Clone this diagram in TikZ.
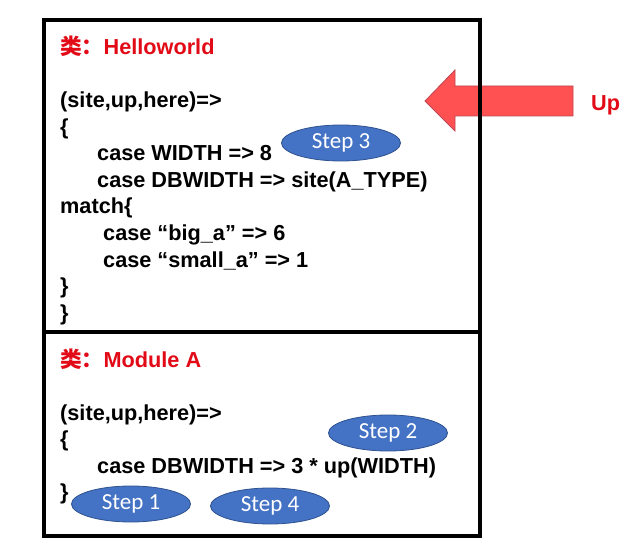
\documentclass[tikz,border=0pt]{standalone}
\usepackage{fontspec}
\setmainfont{Liberation Sans}
\newfontfamily\cjkfont{Noto Sans CJK SC}
\newfontfamily\stepfont{Carlito}
\usetikzlibrary{shapes.geometric}
\definecolor{titlered}{RGB}{226,10,22}
\definecolor{arrowfill}{RGB}{255,80,82}
\definecolor{arrowline}{RGB}{190,70,80}
\definecolor{stepblue}{RGB}{68,114,196}
\definecolor{stepline}{RGB}{47,82,143}
\tikzset{
  code/.style={anchor=base west, inner sep=0pt, font=\fontsize{21.7}{26}\selectfont\bfseries, text=black},
  title/.style={anchor=base west, inner sep=0pt, font=\fontsize{21.7}{26}\selectfont\bfseries, text=titlered},
  stepbox/.style={ellipse, fill=stepblue, draw=stepline, line width=0.8pt, minimum width=119pt, minimum height=36pt, inner sep=0pt, text=white, font=\stepfont\fontsize{23}{25}\selectfont},
  frame/.style={draw=black, line width=4pt},
}
\begin{document}
\begin{tikzpicture}[x=1pt,y=-1pt]
\useasboundingbox (0,0) rectangle (635,559);
% arrow
\draw[fill=arrowfill, draw=arrowline, line width=0.8pt]
  (425,101) -- (455,70) -- (455,86) -- (573,86) -- (573,116) -- (455,116) -- (455,131) -- cycle;
\node[title, anchor=base west] (up) at (591,111) {Up};
% frames
\draw[frame] (44,20) rectangle (480,536);
\draw[frame] (44,332) -- (480,332);
% top class
\node[title] (t1) at (60,55) {{\cjkfont\bfseries 类：}Helloworld};
\node[code] (a1) at (60,108) {(site,up,here)=>};
\node[code] (a2) at (60,134.5) {\{};
\node[code] (a3) at (97,161) {case WIDTH => 8};
\node[code] (a4) at (97,187.5) {case DBWIDTH => site(A\_TYPE)};
\node[code] (a5) at (60,214) {match\{};
\node[code] (a6) at (103,240.5) {case “big\_a” => 6};
\node[code] (a7) at (103,267) {case “small\_a” => 1};
\node[code] (a8) at (60,293.5) {\}};
\node[code] (a9) at (60,320) {\}};
% bottom class
\node[title] (t2) at (60,367) {{\cjkfont\bfseries 类：}Module A};
\node[code] (b1) at (60,420) {(site,up,here)=>};
\node[code] (b2) at (60,446) {\{};
\node[code] (b3) at (97,473) {case DBWIDTH => 3 * up(WIDTH)};
\node[code] (b4) at (60,499) {\}};
% steps
\node[stepbox] (s3) at (341,143) {Step 3};
\node[stepbox] (s2) at (388,433) {Step 2};
\node[stepbox] (s1) at (131,504) {Step 1};
\node[stepbox] (s4) at (270,506) {Step 4};
\end{tikzpicture}
\end{document}
